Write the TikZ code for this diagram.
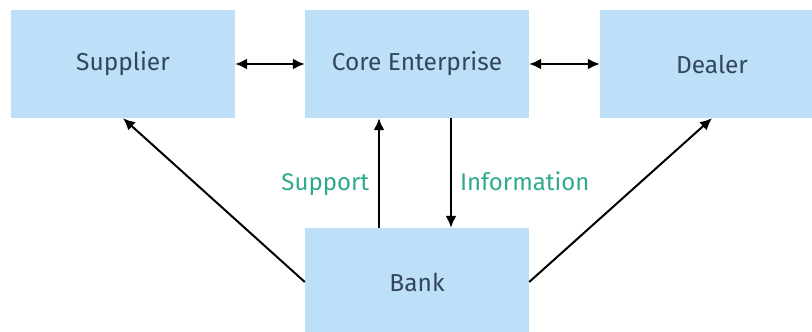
\documentclass[tikz,border=0pt]{standalone}
\usepackage{fontspec}
\setmainfont{Fira Sans}
\usetikzlibrary{arrows.meta}
\definecolor{boxblue}{HTML}{BDDFF7}
\definecolor{boxtext}{HTML}{34475A}
\definecolor{labelgreen}{HTML}{2DAA8A}
\tikzset{
  party/.style={fill=boxblue, draw=none, minimum width=224pt, minimum height=108pt,
    inner sep=0pt, text=boxtext, font=\fontsize{24.5}{28}\selectfont},
  link/.style={line width=2pt, draw=black, -{Latex[length=12pt,width=11pt]}},
  duplex/.style={line width=2pt, draw=black, {Latex[length=12pt,width=11pt]}-{Latex[length=12pt,width=11pt]}},
  flowlabel/.style={text=labelgreen, font=\fontsize{24}{28}\selectfont, inner sep=0pt}
}
\begin{document}
\begin{tikzpicture}[x=1pt,y=1pt]
  \useasboundingbox (0,0) rectangle (812,332);
  \clip (0,0) rectangle (812,332);
  \node[party] (supplier) at (123,268) {Supplier};
  \node[party] (core) at (417,268) {Core Enterprise};
  \node[party] (dealer) at (712,268) {Dealer};
  \node[party] (bank) at (417,50) {Bank};

  \draw[duplex] (supplier.east) -- (core.west);
  \draw[duplex] (core.east) -- (dealer.west);

  \draw[link] (bank.north -| 379,0) -- (core.south -| 379,0)
    node[flowlabel, pos=0.42, anchor=mid east, xshift=-9pt, yshift=-6pt] (support) {Support};
  \draw[link] (core.south -| 451,0) -- (bank.north -| 451,0)
    node[flowlabel, pos=0.58, anchor=mid west, xshift=8pt, yshift=-6pt] (info) {Information};

  \draw[link] (bank.west) -- (supplier.south);
  \draw[link] (bank.east) -- (dealer.south);
\end{tikzpicture}
\end{document}
